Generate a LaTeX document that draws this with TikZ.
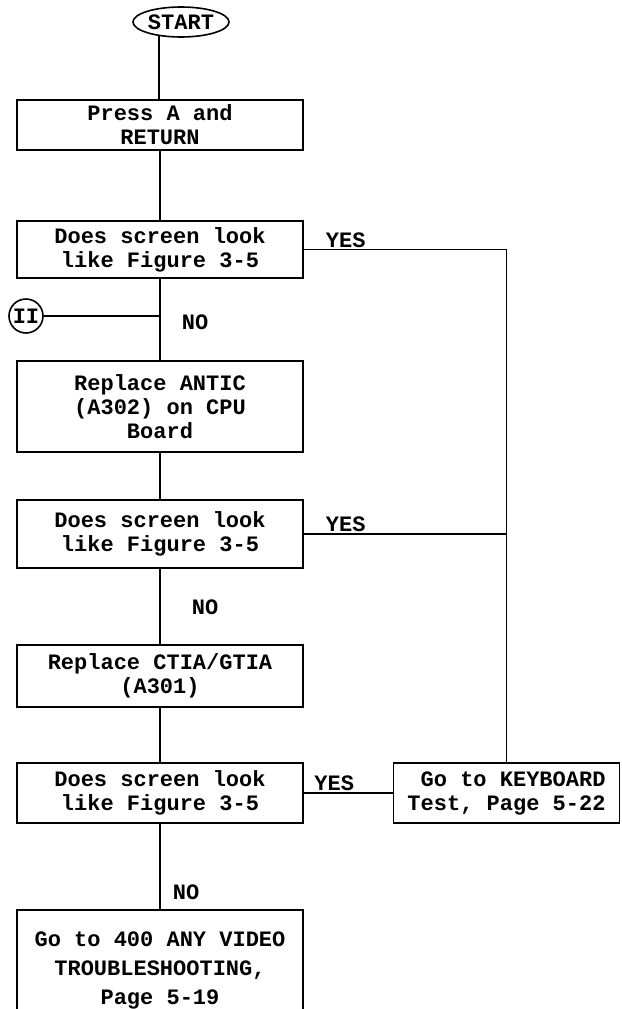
\documentclass[tikz,border=0pt]{standalone}
\usepackage{fontspec}
\setmonofont{Liberation Mono}
\usetikzlibrary{shapes.geometric}

\begin{document}
\begin{tikzpicture}[x=1pt, y=-1pt, line width=1.6pt,
    font=\ttfamily\bfseries\fontsize{22}{24}\selectfont,
    box/.style={draw, rectangle, minimum width=286pt, align=center, inner sep=0pt},
    tag/.style={inner sep=1pt}]
  \useasboundingbox (0,0) rectangle (621,1009);
  \node[draw, ellipse, minimum width=96pt, minimum height=30pt, inner sep=0pt] (start) at (181,22) {START};
  \node[box, minimum height=50pt] (press) at (160,125) {Press A and\\RETURN};
  \node[box, minimum height=57pt] (ask1) at (160,249.5) {Does screen look\\like Figure 3-5};
  \node[draw, circle, minimum size=34pt, inner sep=0pt] (ii) at (26,316) {II};
  \node[box, minimum height=91pt] (antic) at (160,406.5) {Replace ANTIC\\(A302) on CPU\\Board};
  \node[box, minimum height=68pt] (ask2) at (160,534) {Does screen look\\like Figure 3-5};
  \node[box, minimum height=62pt] (ctia) at (160,676) {Replace CTIA/GTIA\\(A301)};
  \node[box, minimum height=60pt] (ask3) at (160,793) {Does screen look\\like Figure 3-5};
  \node[draw, rectangle, minimum width=226pt, minimum height=60pt, align=right, inner sep=0pt] (kbd) at (506.5,793) {Go to KEYBOARD\\Test, Page 5-22};
  \node[box, minimum height=120pt, font=\ttfamily\bfseries\fontsize{22}{29}\selectfont] (video) at (160,970) {Go to 400 ANY VIDEO\\TROUBLESHOOTING,\\Page 5-19};

  \node[tag] (no1) at (195,322) {NO};
  \node[tag] (no2) at (205,607) {NO};
  \node[tag] (no3) at (186,892) {NO};

  \draw (start.213) -- (start.213 |- press.north);
  \draw (press.south) -- (ask1.north);
  \draw (ask1.south) -- (antic.north);
  \draw (ii.east) -- (ii.east -| ask1.south);
  \draw (antic.south) -- (ask2.north);
  \draw (ask2.south) -- (ctia.north);
  \draw (ctia.south) -- (ask3.north);
  \draw (ask3.south) -- (video.north);

  \draw (ask1.east) -- (ask1.east -| kbd.north) node[tag, pos=0.1, above right] {YES} -- (kbd.north);
  \draw (ask2.east) -- (ask2.east -| kbd.north) node[tag, pos=0.1, above right] {YES};
  \draw (ask3.east) -- (kbd.west) node[tag, pos=0.1, above right] {YES};
\end{tikzpicture}
\end{document}
